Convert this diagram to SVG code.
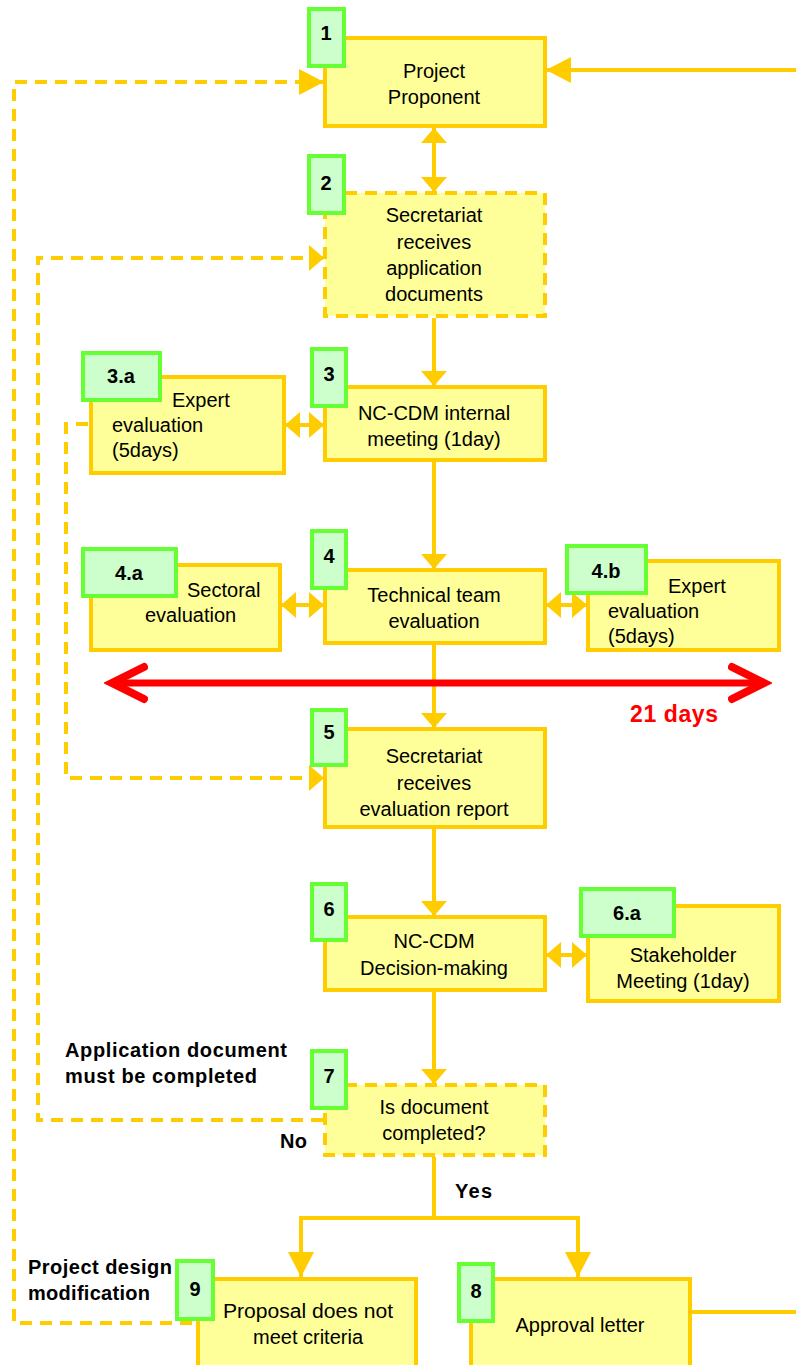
<svg xmlns="http://www.w3.org/2000/svg" width="796" height="1365" viewBox="0 0 796 1365">
<style>
.box{fill:#FFFF99;stroke:#FFCC00;stroke-width:4}
.dbox{fill:#FFFF99;stroke:#FFCC00;stroke-width:4;stroke-dasharray:12 8}
.badge{fill:#CCFFCC;stroke:#66FF33;stroke-width:4}
.ln{fill:none;stroke:#FFCC00;stroke-width:4}
.dl{fill:none;stroke:#FFCC00;stroke-width:4;stroke-dasharray:12 8}
.t{font-family:"Liberation Sans",Arial,sans-serif;font-size:20px;fill:#000}
.c{text-anchor:middle}
.b{font-family:"Liberation Sans",Arial,sans-serif;font-size:20px;font-weight:bold;fill:#000}
.n{font-family:"Liberation Sans",Arial,sans-serif;font-size:20px;font-weight:bold;fill:#000;text-anchor:middle}
.red{font-family:"Liberation Sans",Arial,sans-serif;font-size:23px;font-weight:bold;fill:#FF0000}
</style>
<defs>
<marker id="ah" markerUnits="userSpaceOnUse" markerWidth="16" markerHeight="26" refX="15" refY="13" orient="auto-start-reverse" viewBox="0 0 16 26">
<path d="M0,0 L15,13 L0,26 Z" fill="#FFCC00"/>
</marker>
<marker id="big" markerUnits="userSpaceOnUse" markerWidth="26" markerHeight="26" refX="25" refY="13" orient="auto-start-reverse" viewBox="0 0 26 26">
<path d="M0,0 L25,13 L0,26 Z" fill="#FFCC00"/>
</marker>
<marker id="rh" markerUnits="userSpaceOnUse" markerWidth="44" markerHeight="44" refX="36" refY="20" orient="auto-start-reverse" viewBox="0 0 44 40">
<path d="M4,4 L36,20 L4,36" fill="none" stroke="#FF0000" stroke-width="8" stroke-linecap="round" stroke-linejoin="miter"/>
</marker>
</defs>
<g id="connectors">
<line class="ln" x1="796" y1="70" x2="546" y2="70" marker-end="url(#big)"/>
<polyline class="dl" points="192,1323 14,1323 14,82 324,82" marker-end="url(#big)"/>
<line class="ln" x1="434" y1="128" x2="434" y2="192" marker-start="url(#ah)" marker-end="url(#ah)"/>
<polyline class="dl" points="323,1120 38,1120 38,258 324,258" marker-end="url(#ah)"/>
<line class="ln" x1="434" y1="318" x2="434" y2="386" marker-end="url(#ah)"/>
<line class="ln" x1="285" y1="425" x2="324" y2="425" marker-start="url(#ah)" marker-end="url(#ah)"/>
<polyline class="dl" points="88,424 66,424 66,778 324,778" marker-end="url(#ah)"/>
<line class="ln" x1="434" y1="462" x2="434" y2="569" marker-end="url(#ah)"/>
<line class="ln" x1="281" y1="605" x2="324" y2="605" marker-start="url(#ah)" marker-end="url(#ah)"/>
<line class="ln" x1="546" y1="605" x2="587" y2="605" marker-start="url(#ah)" marker-end="url(#ah)"/>
<line class="ln" x1="434" y1="645" x2="434" y2="728" marker-end="url(#ah)"/>
<line class="ln" x1="434" y1="829" x2="434" y2="916" marker-end="url(#ah)"/>
<line class="ln" x1="546" y1="955" x2="587" y2="955" marker-start="url(#ah)" marker-end="url(#ah)"/>
<line class="ln" x1="434" y1="992" x2="434" y2="1084" marker-end="url(#ah)"/>
<polyline class="ln" points="434,1157 434,1218"/>
<polyline class="ln" points="301,1277 301,1218 578,1218 578,1277" marker-start="url(#big)" marker-end="url(#big)"/>
<line class="ln" x1="692" y1="1312" x2="796" y2="1312"/>
<line x1="112" y1="683" x2="764" y2="683" stroke="#FF0000" stroke-width="7" marker-start="url(#rh)" marker-end="url(#rh)"/>
</g>
<g id="n1">
<rect class="box" x="325" y="38" width="220" height="88"/>
<rect class="badge" x="309" y="9" width="35" height="57"/>
<text class="n" x="326" y="40">1</text>
<text class="t c" x="434" y="78">Project</text>
<text class="t c" x="434" y="104">Proponent</text>
</g>
<g id="n2">
<rect class="dbox" x="325" y="193" width="220" height="123"/>
<rect class="badge" x="309" y="156" width="35" height="57"/>
<text class="n" x="326" y="190">2</text>
<text class="t c" x="434" y="222">Secretariat</text>
<text class="t c" x="434" y="249">receives</text>
<text class="t c" x="434" y="275">application</text>
<text class="t c" x="434" y="301">documents</text>
</g>
<g id="n3">
<rect class="box" x="325" y="387" width="220" height="73"/>
<rect class="badge" x="312" y="349" width="34" height="57"/>
<text class="n" x="329" y="381">3</text>
<text class="t c" x="434" y="420">NC-CDM internal</text>
<text class="t c" x="434" y="446">meeting (1day)</text>
</g>
<g id="n3a">
<rect class="box" x="91" y="377" width="193" height="96"/>
<rect class="badge" x="83" y="353" width="77" height="47"/>
<text class="n" x="121" y="383">3.a</text>
<text class="t" x="172" y="407">Expert</text>
<text class="t" x="112" y="432">evaluation</text>
<text class="t" x="112" y="457">(5days)</text>
</g>
<g id="n4">
<rect class="box" x="325" y="570" width="220" height="73"/>
<rect class="badge" x="312" y="531" width="34" height="57"/>
<text class="n" x="329" y="563">4</text>
<text class="t c" x="434" y="602">Technical team</text>
<text class="t c" x="434" y="628">evaluation</text>
</g>
<g id="n4a">
<rect class="box" x="91" y="565" width="189" height="85"/>
<rect class="badge" x="83" y="549" width="93" height="47"/>
<text class="n" x="129" y="580">4.a</text>
<text class="t" x="187" y="597">Sectoral</text>
<text class="t" x="145" y="622">evaluation</text>
</g>
<g id="n4b">
<rect class="box" x="588" y="561" width="191" height="89"/>
<rect class="badge" x="567" y="546" width="79" height="47"/>
<text class="n" x="606" y="578">4.b</text>
<text class="t" x="668" y="593">Expert</text>
<text class="t" x="608" y="618">evaluation</text>
<text class="t" x="608" y="643">(5days)</text>
</g>
<g id="n5">
<rect class="box" x="325" y="729" width="220" height="98"/>
<rect class="badge" x="312" y="710" width="34" height="55"/>
<text class="n" x="329" y="739">5</text>
<text class="t c" x="434" y="763">Secretariat</text>
<text class="t c" x="434" y="790">receives</text>
<text class="t c" x="434" y="816">evaluation report</text>
</g>
<g id="n6">
<rect class="box" x="325" y="917" width="220" height="73"/>
<rect class="badge" x="312" y="884" width="34" height="56"/>
<text class="n" x="329" y="916">6</text>
<text class="t c" x="434" y="948">NC-CDM</text>
<text class="t c" x="434" y="975">Decision-making</text>
</g>
<g id="n6a">
<rect class="box" x="588" y="906" width="191" height="95"/>
<rect class="badge" x="581" y="889" width="93" height="47"/>
<text class="n" x="627" y="920">6.a</text>
<text class="t c" x="683" y="962">Stakeholder</text>
<text class="t c" x="683" y="988">Meeting (1day)</text>
</g>
<g id="n7">
<rect class="dbox" x="325" y="1085" width="220" height="70"/>
<rect class="badge" x="312" y="1051" width="34" height="57"/>
<text class="n" x="329" y="1083">7</text>
<text class="t c" x="434" y="1114">Is document</text>
<text class="t c" x="434" y="1140">completed?</text>
</g>
<g id="n9">
<rect class="box" x="198" y="1279" width="218" height="90"/>
<rect class="badge" x="177" y="1261" width="36" height="58"/>
<text class="n" x="195" y="1296">9</text>
<text class="t c" x="308" y="1318" textLength="170" lengthAdjust="spacingAndGlyphs">Proposal does not</text>
<text class="t c" x="308" y="1344">meet criteria</text>
</g>
<g id="n8">
<rect class="box" x="471" y="1279" width="219" height="90"/>
<rect class="badge" x="459" y="1264" width="34" height="57"/>
<text class="n" x="476" y="1298">8</text>
<text class="t c" x="580" y="1332">Approval letter</text>
</g>
<g id="labels">
<text class="red" x="630" y="722" textLength="88">21 days</text>
<text class="b" x="65" y="1057" textLength="222">Application document</text>
<text class="b" x="65" y="1083" textLength="192">must be completed</text>
<text class="b" x="280" y="1148" textLength="27">No</text>
<text class="b" x="455" y="1198" textLength="37">Yes</text>
<text class="b" x="28" y="1274" textLength="144">Project design</text>
<text class="b" x="28" y="1300" textLength="122">modification</text>
</g>
</svg>
